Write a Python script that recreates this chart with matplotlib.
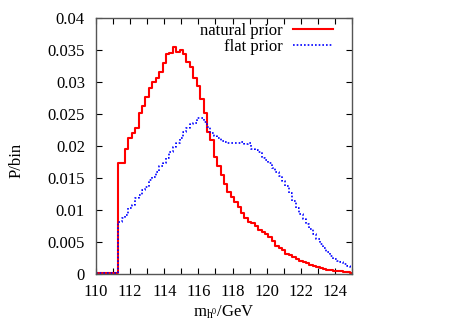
import matplotlib
matplotlib.use("Agg")
import matplotlib.pyplot as plt
from matplotlib.ticker import MultipleLocator, FixedLocator
import numpy as np

plt.rcParams['font.family'] = ['Liberation Serif', 'DejaVu Serif']
plt.rcParams['mathtext.fontset'] = 'custom'
plt.rcParams['mathtext.rm'] = 'Liberation Serif'
plt.rcParams['mathtext.it'] = 'Liberation Serif:italic'

# bin centres (GeV), 0.2 GeV bins
mh = np.round(np.arange(110.0, 125.0001, 0.2), 1)

natural_prior = [
    0.0001, 0.0001, 0.0001, 0.0001, 0.0001, 0.0001, 0.0001,          # 110.0-111.2
    0.0174, 0.0174, 0.0195, 0.0213, 0.0220, 0.0228, 0.0252, 0.0262,  # 111.4-112.8
    0.0277, 0.0290, 0.0300, 0.0307, 0.0316, 0.0329, 0.0344, 0.0346,  # 113.0-114.4
    0.0354, 0.0347, 0.0350, 0.0343, 0.0332, 0.0324, 0.0307, 0.0293,  # 114.6-116.0
    0.0274, 0.0252, 0.0222, 0.0209, 0.0183, 0.0168, 0.0155, 0.0140,  # 116.2-117.6
    0.0128, 0.0121, 0.0112, 0.0104, 0.0096, 0.0088, 0.0082, 0.0079,  # 117.8-119.2
    0.0075, 0.0068, 0.0065, 0.0062, 0.0058, 0.0052, 0.0044, 0.0041,  # 119.4-120.8
    0.0037, 0.0031, 0.0029, 0.0026, 0.0023, 0.0021, 0.0019, 0.0017,  # 121.0-122.4
    0.0014, 0.0012, 0.0011, 0.0009, 0.0008, 0.0007, 0.0006, 0.0005,  # 122.6-124.0
    0.0004, 0.0004, 0.0003, 0.0003, 0.0002,                          # 124.2-125.0
]

flat_prior = [
    0.0001, 0.0001, 0.0001, 0.0001, 0.0001, 0.0001, 0.0001,          # 110.0-111.2
    0.0082, 0.0087, 0.0092, 0.0103, 0.0108, 0.0118, 0.0123, 0.0131,  # 111.4-112.8
    0.0136, 0.0147, 0.0152, 0.0160, 0.0168, 0.0174, 0.0181, 0.0191,  # 113.0-114.4
    0.0199, 0.0204, 0.0212, 0.0222, 0.0228, 0.0234, 0.0236, 0.0243,  # 114.6-116.0
    0.0244, 0.0238, 0.0230, 0.0220, 0.0215, 0.0212, 0.0208, 0.0207,  # 116.2-117.6
    0.0205, 0.0204, 0.0205, 0.0204, 0.0206, 0.0203, 0.0204, 0.0196,  # 117.8-119.2
    0.0194, 0.0190, 0.0181, 0.0178, 0.0174, 0.0166, 0.0160, 0.0153,  # 119.4-120.8
    0.0146, 0.0137, 0.0127, 0.0114, 0.0103, 0.0094, 0.0086, 0.0078,  # 121.0-122.4
    0.0070, 0.0062, 0.0054, 0.0047, 0.0040, 0.0034, 0.0028, 0.0024,  # 122.6-124.0
    0.0020, 0.0018, 0.0016, 0.0013, 0.0011,                          # 124.2-125.0
]

x_ticks = [110, 112, 114, 116, 118, 120, 122, 124]
y_ticks = [0, 0.005, 0.01, 0.015, 0.02, 0.025, 0.03, 0.035, 0.04]
y_tick_labels = ["0", "0.005", "0.01", "0.015", "0.02", "0.025", "0.03", "0.035", "0.04"]

fig = plt.figure(figsize=(4.57, 3.20), dpi=100)
ax = fig.add_axes([96/457, 46/320, 256/457, 256/320])

ax.step(mh, natural_prior, where='mid', color='#ff0000', lw=1.5, label='natural prior')
ax.step(mh, flat_prior, where='mid', color='#0000ff', lw=1.2, linestyle=(0, (1, 1.2)), label='flat prior')

ax.set_xlim(110, 125)
ax.set_ylim(0, 0.04)
ax.xaxis.set_major_locator(FixedLocator(x_ticks))
ax.xaxis.set_minor_locator(MultipleLocator(1))
ax.set_xticklabels([str(t) for t in x_ticks])
ax.yaxis.set_major_locator(FixedLocator(y_ticks))
ax.set_yticklabels(y_tick_labels)
ax.tick_params(which='both', direction='in', top=True, right=True, labelsize=12,
               length=4, width=0.8)
ax.tick_params(axis='y', pad=8)
ax.tick_params(axis='x', pad=7)
for s in ax.spines.values():
    s.set_linewidth(1.0)
    s.set_color('#555555')

ax.set_ylabel('P/bin', fontsize=12)
ax.yaxis.set_label_coords(25/457, 0.5, transform=fig.transFigure)
ax.set_xlabel(r'$\mathrm{m_{h^0}}$/GeV', fontsize=12, labelpad=3)

leg = ax.legend(loc='upper right', frameon=False, markerfirst=False, fontsize=12,
                handlelength=2.4, handletextpad=0.6, labelspacing=0.0,
                borderpad=0.0, borderaxespad=0.0,
                bbox_to_anchor=(333/457, 1 - 23/320), bbox_transform=fig.transFigure)

fig.savefig('out.png', dpi=100)
